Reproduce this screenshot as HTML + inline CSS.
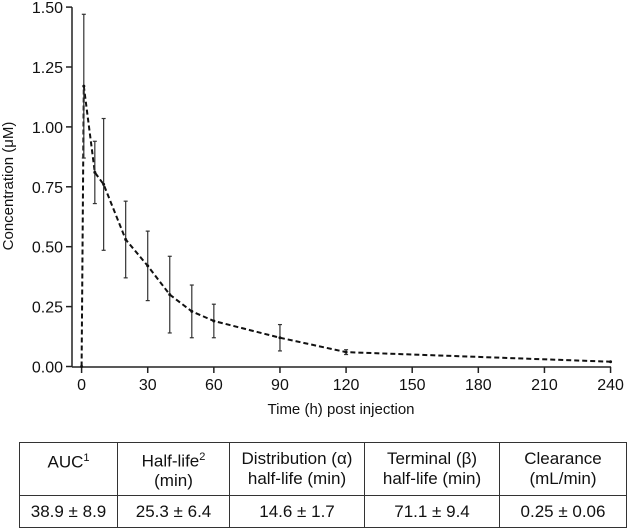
<!DOCTYPE html>
<html><head><meta charset="utf-8"><style>
body{margin:0;background:#fff;width:630px;height:529px;overflow:hidden;font-family:"Liberation Sans",sans-serif;}
svg{position:absolute;left:0;top:0}
table{position:absolute;left:19px;top:442px;border-collapse:collapse;font-size:17px;color:#111;table-layout:fixed}
td{border:1.5px solid #333;text-align:center;padding:0;line-height:20px;white-space:nowrap;overflow:hidden}
</style></head><body>
<svg width="630" height="440">
<g id="g"></g>
</svg>
<table>
<tr style="height:53px">
<td style="width:97px;vertical-align:top;padding-top:5px">AUC<sup style="font-size:11px">1</sup></td>
<td style="width:111px">Half-life<sup style="font-size:11px">2</sup><br>(min)</td>
<td style="width:134px">Distribution (α)<br>half-life (min)</td>
<td style="width:134px">Terminal (β)<br>half-life (min)</td>
<td style="width:126px">Clearance<br>(mL/min)</td>
</tr>
<tr style="height:32px">
<td>38.9 ± 8.9</td>
<td>25.3 ± 6.4</td>
<td>14.6 ± 1.7</td>
<td>71.1 ± 9.4</td>
<td>0.25 ± 0.06</td>
</tr>
</table>
<script>
const times=[0,1,6,10,20,30,40,50,60,90,120,240];
const conc=[0,1.17,0.81,0.76,0.53,0.42,0.30,0.23,0.19,0.12,0.06,0.02];
const errs=[0,0.30,0.13,0.275,0.16,0.145,0.16,0.11,0.07,0.055,0.01,0];
const xTicks=[0,30,60,90,120,150,180,210,240];
const yTicks=[0,0.25,0.5,0.75,1.0,1.25,1.5];
const sx=t=>81.6+t*2.204;
const sy=v=>366.5-v*239.6;
const NS="http://www.w3.org/2000/svg";
const g=document.getElementById('g');
function mk(tag,at,name){const e=document.createElementNS(NS,tag);for(const k in at)e.setAttribute(k,at[k]);


g.appendChild(e);return e;}
mk('line',{x1:72,y1:sy(1.5),x2:72,y2:367,stroke:'#222','stroke-width':1.5},'y-axis');
mk('line',{x1:72,y1:367,x2:sx(240)+0.5,y2:367,stroke:'#222','stroke-width':1.5},'x-axis');
yTicks.forEach(v=>{mk('line',{x1:66,y1:sy(v),x2:72,y2:sy(v),stroke:'#222','stroke-width':1.5},'y-tick');
const t=mk('text',{x:63,y:sy(v)+6,'text-anchor':'end','font-size':16,fill:'#111'},'y-tick-label');t.textContent=v.toFixed(2);});
xTicks.forEach(v=>{mk('line',{x1:sx(v),y1:367,x2:sx(v),y2:373,stroke:'#222','stroke-width':1.5},'x-tick');
const t=mk('text',{x:sx(v),y:390,'text-anchor':'middle','font-size':16,fill:'#111'},'x-tick-label');t.textContent=v;});
let t=mk('text',{x:341,y:414,'text-anchor':'middle','font-size':15,fill:'#111'},'x-axis-title');t.textContent='Time (h) post injection';
t=mk('text',{x:0,y:0,'text-anchor':'middle','font-size':15,fill:'#111',transform:'translate(13,186) rotate(-90)'},'y-axis-title');t.textContent='Concentration (μM)';
mk('polyline',{points:times.map((x,i)=>sx(x)+','+sy(conc[i])).join(' '),fill:'none',stroke:'#111','stroke-width':2,'stroke-dasharray':'5,3'},'mean-line');
times.forEach((x,i)=>{if(errs[i]>0){const X=sx(x);
mk('line',{x1:X,y1:sy(conc[i]+errs[i]),x2:X,y2:sy(conc[i]-errs[i]),stroke:'#333','stroke-width':1.2},'error-bar');
mk('line',{x1:X-2,y1:sy(conc[i]+errs[i]),x2:X+2,y2:sy(conc[i]+errs[i]),stroke:'#333','stroke-width':1.2},'error-cap');
mk('line',{x1:X-2,y1:sy(conc[i]-errs[i]),x2:X+2,y2:sy(conc[i]-errs[i]),stroke:'#333','stroke-width':1.2},'error-cap');}
mk('circle',{cx:sx(x),cy:sy(conc[i]),r:1.5,fill:'#111'},'data-point');});
</script>
</body></html>
